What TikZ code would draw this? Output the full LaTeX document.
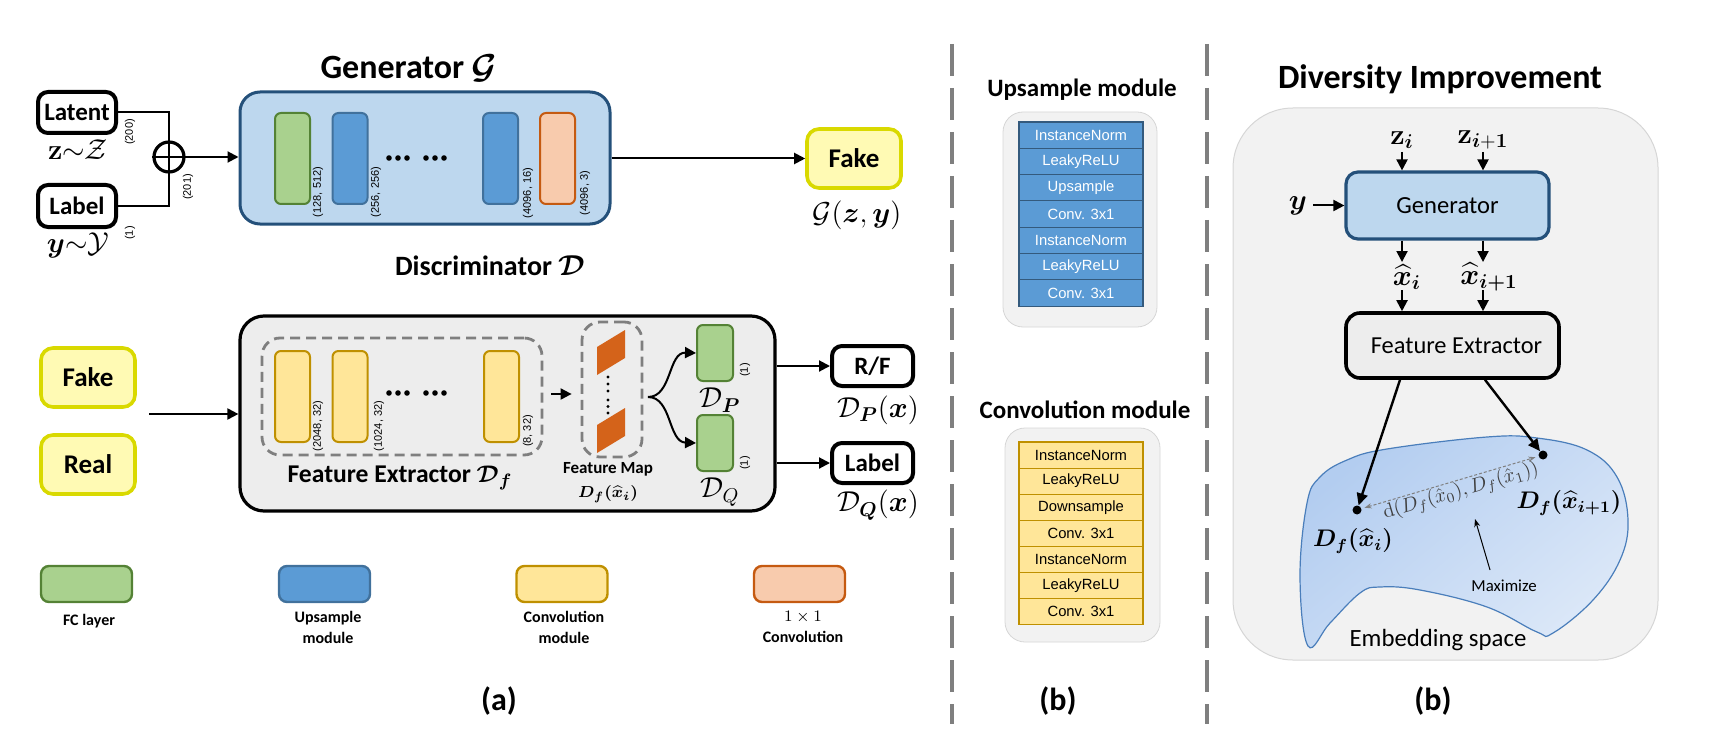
\documentclass[tikz,border=0pt]{standalone}
\usepackage{amsmath,bm}
\usepackage[no-math]{fontspec}
\setmainfont{Carlito}
\newfontfamily\arialf{Liberation Sans}
\usetikzlibrary{arrows.meta,calc,shapes.geometric}
\newcommand{\fsz}[1]{\fontsize{#1}{#1}\selectfont}
\definecolor{genfill}{HTML}{BDD7EE}
\definecolor{genedge}{HTML}{24507A}
\definecolor{fcfill}{HTML}{A9D18E}
\definecolor{fcedge}{HTML}{548235}
\definecolor{upfill}{HTML}{5B9BD5}
\definecolor{upedge}{HTML}{41719C}
\definecolor{onefill}{HTML}{F8CBAD}
\definecolor{oneedge}{HTML}{C55A11}
\definecolor{cvfill}{HTML}{FFE699}
\definecolor{cvedge}{HTML}{BF9000}
\definecolor{yfill}{HTML}{FFFAB4}
\definecolor{yedge}{HTML}{D9D900}
\definecolor{dfill}{HTML}{EDEDED}
\definecolor{fmap}{HTML}{D4631A}
\definecolor{divgray}{HTML}{7F7F7F}
\definecolor{panelfill}{HTML}{F2F2F2}
\definecolor{paneledge}{HTML}{D6D6D6}
\definecolor{blobA}{HTML}{B3CDF0}
\definecolor{blobB}{HTML}{DCE8F8}
\definecolor{blobedge}{HTML}{4A7EBB}
\begin{document}
\begin{tikzpicture}[x=0.5pt,y=-0.5pt,
  arr/.style={line width=1pt,-{Triangle[length=5.5pt,width=5.5pt]}},
  ln/.style={line width=1pt},
  bbox/.style={draw=black,line width=2pt,rounded corners=5pt,fill=white,font=\bfseries\fsz{12.5},inner sep=0pt},
  ybox/.style={draw=yedge,line width=1.8pt,fill=yfill,rounded corners=6pt,font=\bfseries\fsz{13.5},minimum width=47pt,minimum height=29.5pt,inner sep=0pt},
  bar/.style={line width=1pt,rounded corners=3pt,minimum width=17.5pt,minimum height=45.5pt,inner sep=0pt},
  fcbar/.style={bar,draw=fcedge,fill=fcfill},
  upbar/.style={bar,draw=upedge,fill=upfill},
  onebar/.style={bar,draw=oneedge,fill=onefill},
  cvbar/.style={bar,draw=cvedge,fill=cvfill},
  leg/.style={line width=1.2pt,rounded corners=4pt,minimum width=45.5pt,minimum height=18pt,inner sep=0pt},
  legtxt/.style={font=\bfseries\fontsize{8}{10.5}\selectfont,align=center,inner sep=0pt},
  dimlab/.style={font=\arialf\fsz{5.5},rotate=90,inner sep=0pt},
  ttl/.style={font=\bfseries\fsz{17},inner sep=0pt},
  subttl/.style={font=\bfseries\fsz{12.8},inner sep=0pt},
  mlab/.style={font=\fsz{14},inner sep=0pt},
  dashbox/.style={draw=divgray,line width=1.4pt,dash pattern=on 5pt off 3pt,rounded corners=9pt,inner sep=0pt},
  urow/.style={draw=upedge!80!black,fill=upfill,text=white,font=\arialf\fsz{7.4},minimum width=62pt,minimum height=13.15pt,inner sep=0pt,line width=0.6pt},
  crow/.style={draw=cvedge,fill=cvfill,text=black,font=\arialf\fsz{7.4},minimum width=62pt,minimum height=13.05pt,inner sep=0pt,line width=0.6pt},
  modbox/.style={draw=paneledge,line width=0.4pt,fill=panelfill,rounded corners=10pt,inner sep=0pt},
  dotn/.style={circle,fill=black,inner sep=0pt,minimum size=4.5pt}
]
\useasboundingbox (0,0) rectangle (1732,754);

% ---------------- Generator ----------------
\node[ttl] (gtitle) at (409,68) {Generator $\bm{\mathcal{G}}$};
\node[bbox,minimum width=39pt,minimum height=20.5pt] (latent) at (77,112.5) {Latent};
\node[bbox,minimum width=39pt,minimum height=21pt] (label) at (77,206) {Label};
\node[mlab] (zlab) at (78,150) {$\mathbf{z}{\sim}\mathcal{Z}$};
\node[mlab] (ylab) at (78,245) {$\bm{y}{\sim}\mathcal{Y}$};
\node[dimlab] (d200) at (130,132) {(200)};
\node[dimlab] (d1) at (130,233) {(1)};
\node[circle,draw=black,line width=1.6pt,minimum size=15pt,inner sep=0pt] (sum) at (169,157) {};
\draw[line width=1.3pt] (sum.north) -- (sum.south) (sum.west) -- (sum.east);
\node[dimlab] (d201) at (188,187) {(201)};
\node[draw=genedge,fill=genfill,line width=1.5pt,rounded corners=10pt,minimum width=185pt,minimum height=66pt,inner sep=0pt] (gen) at (425,158) {};
\draw[ln] (latent.east) -| (sum.north);
\draw[ln] (label.east) -| (sum.south);
\draw[arr] (sum.east) -- (sum.east -| gen.west);
\node[fcbar] (g1) at (292.5,158.5) {};
\node[upbar] (g2) at (350,158.5) {};
\node[upbar] (g3) at (500.5,158.5) {};
\node[onebar] (g4) at (557.5,158.5) {};
\foreach \x in {389,398,407,426,435,444} \fill (\x,158) circle (2.8);
\node[dimlab] (lg1) at (318,192) {(128, 512)};
\node[dimlab] (lg2) at (376,192) {(256, 256)};
\node[dimlab] (lg3) at (528,193) {(4096, 16)};
\node[dimlab] (lg4) at (585,193) {(4096, 3)};
\node[ybox] (fake1) at (854,158.5) {Fake};
\draw[arr] (gen.east |- fake1.west) -- (fake1.west);
\node[mlab] (gzy) at (857,215) {$\mathcal{G}(\bm{z},\bm{y})$};

% ---------------- Discriminator ----------------
\node[font=\bfseries\fsz{14},inner sep=0pt] (dtitle) at (490,266) {Discriminator $\bm{\mathcal{D}}$};
\node[ybox] (fake2) at (88,377.5) {Fake};
\node[ybox] (real) at (88,464.5) {Real};
\node[draw=black,fill=dfill,line width=1.6pt,rounded corners=12pt,minimum width=267.5pt,minimum height=97.5pt,inner sep=0pt] (dbox) at (507.5,413.5) {};
\coordinate (din) at (149,414);
\draw[arr] (din) -- (din -| dbox.west);
\node[dashbox,minimum width=140pt,minimum height=58.5pt] (fe) at (402,396.5) {};
\node[cvbar] (c1) at (292.5,396.5) {};
\node[cvbar] (c2) at (350,396.5) {};
\node[cvbar] (c3) at (501.5,396.5) {};
\foreach \x in {389,398,407,426,435,444} \fill (\x,393) circle (2.8);
\node[dimlab] (lc1) at (318,426) {(2048, 32)};
\node[dimlab] (lc2) at (379,426) {(1024, 32)};
\node[dimlab] (lc3) at (528,431) {(8, 32)};
\node[subttl] (felab) at (400,478) {Feature Extractor $\bm{\mathcal{D}_f}$};
\node[dashbox,minimum width=30pt,minimum height=67.5pt] (fm) at (612,389.5) {};
\draw[arr] ([xshift=4pt]fe.east |- 0,394) -- ([xshift=-4.5pt]fm.west |- 0,394);
\fill[fmap] (597,347) -- (625,330) -- (625,358) -- (597,375) -- cycle;
\fill[fmap] (597,425) -- (625,408) -- (625,436) -- (597,453) -- cycle;
\foreach \y in {377,384,391,400,406.5,413} \fill (608,\y) circle (1.6);
\node[font=\bfseries\fsz{8.5},inner sep=0pt] (fmlab) at (608,469) {Feature Map};
\node[font=\fsz{8.5},inner sep=0pt] (fmlab2) at (608,494) {$\bm{D_f(\widehat{x}_i)}$};
\node[fcbar,minimum width=18pt,minimum height=28pt] (dp) at (715,353) {};
\node[fcbar,minimum width=18pt,minimum height=28pt] (dq) at (715,443) {};
\coordinate (fork) at (648,397);
\draw[arr] (fork) .. controls (672,397) and (668,352) .. (dp.west);
\draw[arr] (fork) .. controls (672,397) and (668,442) .. (dq.west);
\node[dimlab] (ld1) at (745,370) {(1)};
\node[dimlab] (ld2) at (745,463) {(1)};
\node[font=\fsz{14},inner sep=0pt] (dplab) at (720,400) {$\mathcal{D}_{\bm{P}}$};
\node[font=\fsz{14},inner sep=0pt] (dqlab) at (720,492) {$\mathcal{D}_{Q}$};
\node[bbox,minimum width=40.5pt,minimum height=20pt] (rf) at (872.5,366) {R/F};
\node[bbox,minimum width=40.5pt,minimum height=20pt] (label2) at (872.5,463) {Label};
\draw[arr] (rf.west -| dbox.east) -- (rf.west);
\draw[arr] (label2.west -| dbox.east) -- (label2.west);
\node[mlab] (dpx) at (878,410) {$\mathcal{D}_{\bm{P}}(\bm{x})$};
\node[mlab] (dqx) at (878,505) {$\mathcal{D}_{\bm{Q}}(\bm{x})$};

% ---------------- Legend ----------------
\node[leg,draw=fcedge,fill=fcfill] (l1) at (86.5,584) {};
\node[leg,draw=upedge,fill=upfill] (l2) at (324.5,584) {};
\node[leg,draw=cvedge,fill=cvfill] (l3) at (562,584) {};
\node[leg,draw=oneedge,fill=onefill] (l4) at (799.5,584) {};
\node[legtxt] (t1) at (89,621) {FC layer};
\node[legtxt] (t2) at (328,627) {Upsample\\module};
\node[legtxt] (t3) at (564,627) {Convolution\\module};
\node[legtxt] (t4) at (803,627) {$1\times1$\\Convolution};
\node[font=\bfseries\fsz{16},inner sep=0pt] (capa) at (499,701) {(a)};

% ---------------- Dividers ----------------
\draw[divgray,line width=2pt,dash pattern=on 16pt off 6pt] (952,44) -- (952,724);
\draw[divgray,line width=2pt,dash pattern=on 16pt off 6pt] (1207,44) -- (1207,724);

% ---------------- Modules ----------------
\node[font=\bfseries\fsz{12.5},inner sep=0pt] (uptitle) at (1082,90) {Upsample module};
\node[modbox,minimum width=77pt,minimum height=107.5pt] (upmod) at (1080,219.5) {};
\foreach \t [count=\i] in {InstanceNorm,LeakyReLU,Upsample,Conv. 3x1,InstanceNorm,LeakyReLU,Conv. 3x1}
  \node[urow] (u\i) at (1081,{122+26.3*(\i-0.5)}) {\t};
\node[font=\bfseries\fsz{12.5},inner sep=0pt] (cvtitle) at (1085,410) {Convolution module};
\node[modbox,minimum width=77.5pt,minimum height=107pt] (cvmod) at (1082.5,535) {};
\foreach \t [count=\i] in {InstanceNorm,LeakyReLU,Downsample,Conv. 3x1,InstanceNorm,LeakyReLU,Conv. 3x1}
  \node[crow] (k\i) at (1081,{442+26.1*(\i-0.5)}) {\t};
\node[font=\bfseries\fsz{16},inner sep=0pt] (capb1) at (1058,701) {(b)};

% ---------------- Diversity improvement ----------------
\node[ttl] (divtitle) at (1440,79) {Diversity Improvement};
\node[draw=paneledge,line width=0.5pt,fill=panelfill,rounded corners=30pt,minimum width=212.5pt,minimum height=276pt,inner sep=0pt] (dpanel) at (1445.5,384) {};
\node[draw=genedge,fill=genfill,line width=1.6pt,rounded corners=6pt,minimum width=101.5pt,minimum height=33.5pt,inner sep=0pt,font=\fsz{12.3}] (genb) at (1447.5,205.5) {Generator};
\node[font=\fsz{14},inner sep=0pt] (zi) at (1402,140) {$\mathbf{z}_{\bm{i}}$};
\node[font=\fsz{14},inner sep=0pt] (zi1) at (1483,140) {$\mathbf{z}_{\bm{i}\mathbf{+1}}$};
\coordinate (ca) at (1402,0);
\coordinate (cb) at (1483,0);
\draw[arr] (ca |- 0,152) -- (ca |- genb.north);
\draw[arr] (cb |- 0,152) -- (cb |- genb.north);
\node[font=\fsz{14},inner sep=0pt] (yin) at (1298,206) {$\bm{y}$};
\draw[arr] ([xshift=3pt]yin.east |- genb.west) -- (genb.west);
\node[font=\fsz{14},inner sep=0pt] (xh1) at (1407,277) {$\bm{\widehat{x}_i}$};
\node[font=\fsz{14},inner sep=0pt] (xh2) at (1489,277) {$\bm{\widehat{x}_{i+1}}$};
\draw[arr] (ca |- genb.south) -- (ca |- 0,262);
\draw[arr] (cb |- genb.south) -- (cb |- 0,262);
\node[draw=black,fill=dfill,line width=1.8pt,rounded corners=7pt,minimum width=106.5pt,minimum height=32.5pt,inner sep=0pt,font=\fsz{12.2}] (fe2) at (1452.5,345.5) {\hspace{4pt}Feature Extractor};
\draw[arr] (ca |- 0,290) -- (ca |- fe2.north);
\draw[arr] (cb |- 0,290) -- (cb |- fe2.north);
\draw[draw=blobedge,line width=0.6pt,top color=blobA,bottom color=blobB,shading angle=40]
  plot[smooth cycle,tension=0.65] coordinates {(1308,646) (1300,577) (1307,503) (1320,477) (1347,460) (1387,449) (1487,437) (1537,438) (1587,450) (1617,477) (1628,520) (1620,560) (1593,600) (1553,633) (1537,632) (1487,607) (1420,590) (1380,587) (1360,593) (1330,623)};
\node[dotn] (dl) at (1357,510) {};
\node[dotn] (dr) at (1543,455) {};
\coordinate (cc) at (1400,0);
\coordinate (cd) at (1485,0);
\draw[line width=1.2pt,-{Triangle[length=6pt,width=5.5pt]}] (cc |- fe2.south) -- (dl);
\draw[line width=1.2pt,-{Triangle[length=6pt,width=5.5pt]}] (cd |- fe2.south) -- (dr);
\draw[divgray,line width=0.5pt,dash pattern=on 1.5pt off 1pt,{Stealth[length=3.5pt]}-{Stealth[length=3.5pt]},shorten <=1.5pt,shorten >=1.5pt] (dl) -- (dr)
  node[midway,sloped,below,inner sep=0.5pt,font=\fsz{10},text=black!75,xshift=4pt] (dlab) {$\mathrm{d}(D_f(\hat{x}_0),D_f(\hat{x}_1))$};
\node[font=\fsz{11.5},inner sep=0pt] (dfl) at (1353,541) {$\bm{D_f(\widehat{x}_i)}$};
\node[font=\fsz{11.5},inner sep=0pt] (dfr) at (1569,503) {$\bm{D_f(\widehat{x}_{i+1})}$};
\node[font=\fsz{8.4},inner sep=0pt] (maxl) at (1504,586) {Maximize};
\coordinate (mx) at (1490,570);
\draw[line width=0.5pt,-{Stealth[length=4pt]}] (mx) -- (1475,519);
\node[font=\fsz{12.4},inner sep=0pt] (emb) at (1438,640) {Embedding space};
\node[font=\bfseries\fsz{16},inner sep=0pt] (capb2) at (1433,701) {(b)};
\end{tikzpicture}
\end{document}
